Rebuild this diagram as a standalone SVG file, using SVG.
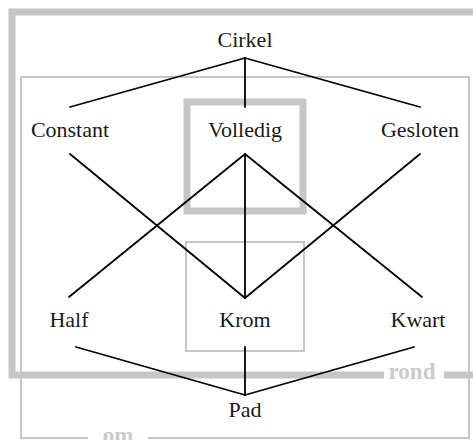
<svg xmlns="http://www.w3.org/2000/svg" width="473" height="440" viewBox="0 0 473 440">
  <style>
    .label { font-family: "Liberation Serif", "Times New Roman", serif; font-size: 22px; fill: #1a1a1a; text-anchor: middle; }
    .region-label { font-family: "Liberation Serif", "Times New Roman", serif; font-size: 23px; font-weight: bold; fill: #cbcbcb; text-anchor: middle; }
    .thick { fill: none; stroke: #c6c6c6; stroke-width: 7; stroke-linejoin: miter; stroke-linecap: butt; }
    .thin { fill: none; stroke: #c6c6c6; stroke-width: 2; stroke-linejoin: miter; stroke-linecap: butt; }
    .edge { fill: none; stroke: #000; stroke-width: 1.8; stroke-linecap: round; }
  </style>

  <rect width="473" height="440" fill="#fff"/>

  <!-- grouping regions -->
  <g id="region-rond">
    <path class="thick" d="M384 375 H12 V12 H480 M444 375 H480"/>
    <text class="region-label" x="412" y="379">rond</text>
  </g>
  <g id="region-om">
    <path class="thin" d="M88 438 H21 V77 H469 V438 H148"/>
    <text class="region-label" x="118" y="443">om</text>
  </g>
  <g id="region-volledig">
    <rect class="thick" x="187" y="102" width="116" height="109"/>
  </g>
  <g id="region-krom">
    <rect class="thin" x="186" y="242" width="118" height="109"/>
  </g>

  <!-- connectors -->
  <g id="connectors">
    <line class="edge" x1="245" y1="58" x2="70" y2="107"/>
    <line class="edge" x1="245" y1="58" x2="245" y2="107"/>
    <line class="edge" x1="245" y1="58" x2="420" y2="107"/>
    <line class="edge" x1="70" y1="154" x2="245" y2="298"/>
    <line class="edge" x1="245" y1="154" x2="69" y2="297"/>
    <line class="edge" x1="245" y1="154" x2="245" y2="298"/>
    <line class="edge" x1="245" y1="154" x2="422" y2="297"/>
    <line class="edge" x1="420" y1="154" x2="245" y2="298"/>
    <line class="edge" x1="76" y1="347" x2="245" y2="395"/>
    <line class="edge" x1="245" y1="347" x2="245" y2="395"/>
    <line class="edge" x1="414" y1="347" x2="245" y2="395"/>
  </g>

  <!-- nodes -->
  <g id="cirkel"><text class="label" x="245" y="47">Cirkel</text></g>
  <g id="constant"><text class="label" x="70" y="137">Constant</text></g>
  <g id="volledig"><text class="label" x="245" y="137">Volledig</text></g>
  <g id="gesloten"><text class="label" x="420" y="137">Gesloten</text></g>
  <g id="half"><text class="label" x="69" y="327">Half</text></g>
  <g id="krom"><text class="label" x="245" y="327">Krom</text></g>
  <g id="kwart"><text class="label" x="418" y="327">Kwart</text></g>
  <g id="pad"><text class="label" x="245" y="417">Pad</text></g>
</svg>
